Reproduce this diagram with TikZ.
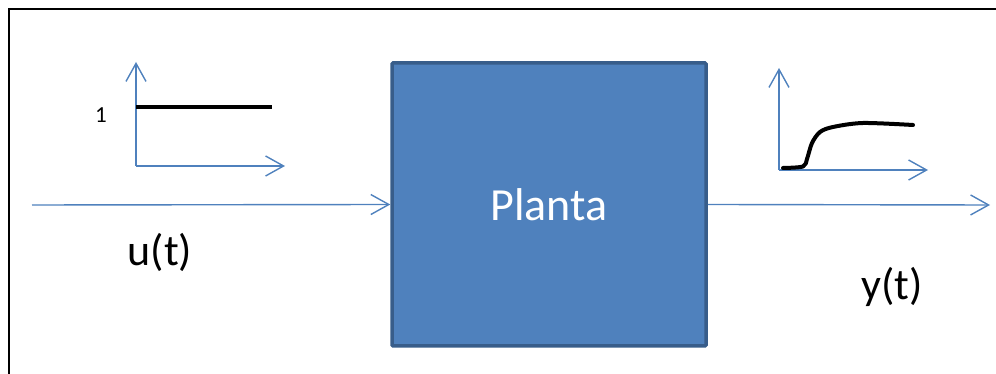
\documentclass[tikz,border=0pt]{standalone}
\usepackage{fontspec}
\setmainfont{Carlito}
\usetikzlibrary{arrows.meta,positioning}
\definecolor{pBlue}{HTML}{4F81BD}
\definecolor{pEdge}{HTML}{385D8A}
\definecolor{pInk}{HTML}{000000}

\begin{document}
\begin{tikzpicture}[x=1pt, y=1pt,
  sig/.style={draw=pBlue, line width=1.4pt, -{Straight Barb[length=18pt, width=20pt, line width=1.4pt]}},
  axis/.style={draw=pBlue, line width=1.4pt, -{Straight Barb[length=18pt, width=20pt, line width=1.4pt]}},
  curve/.style={draw=pInk, line width=4pt},
  block/.style={draw=pEdge, fill=pBlue, line width=3.5pt, rounded corners=1pt,
                minimum width=314pt, minimum height=283pt, text=white,
                font=\fontsize{46}{50}\selectfont},
  lab/.style={font=\fontsize{44}{48}\selectfont, inner sep=0pt},
  tick/.style={font=\fontsize{23}{26}\selectfont, inner sep=0pt},
]
\useasboundingbox (0,0) rectangle (996,374);

% frame
\draw[line width=2pt] (9,0) -- (9,365) -- (996,365);

% plant
\node[block] (planta) at (549,169.5) {Planta};

% input and output lines
\coordinate (in)  at (32,169);
\coordinate (out) at (990,169);
\draw[sig] (in) -- (planta.west);
\draw[sig] (planta.east) -- (out);
\node[lab] (u) at (160,122) {u(t)};
\node[lab] (y) at (892,87) {y(t)};

% step input sketch
\coordinate (o1) at (136,208);
\coordinate (v1) at (136,312);
\coordinate (h1) at (285,208);
\draw[axis] (o1) -- (v1);
\draw[axis] (o1) -- (h1);
\draw[curve] (136,267) -- (272,267);
\node[tick] (one) at (101,259) {1};

% response sketch
\coordinate (o2) at (779,204);
\coordinate (v2) at (779,306);
\coordinate (h2) at (928,204);
\draw[axis] (o2) -- (v2);
\draw[axis] (o2) -- (h2);
\draw[curve, line cap=round, line join=round] plot[smooth, tension=0.5] coordinates
  {(783,206) (803,207.5) (807,215) (812,231) (820,242) (833,247) (863,251) (913,249)};

\end{tikzpicture}
\end{document}
